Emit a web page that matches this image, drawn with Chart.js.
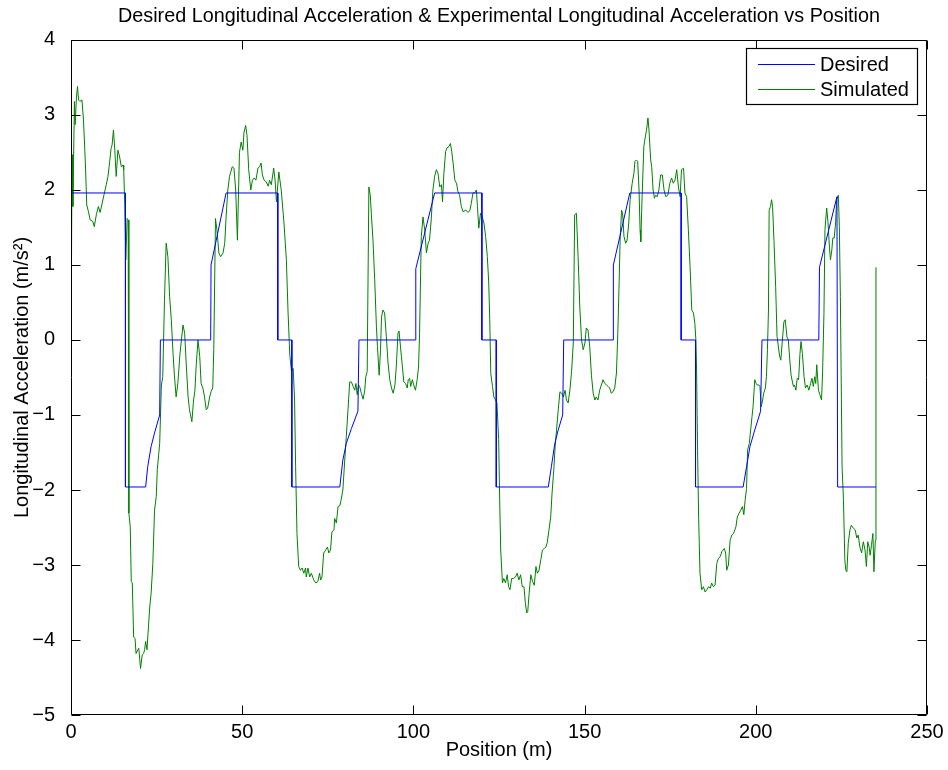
<!DOCTYPE html>
<html><head><meta charset="utf-8">
<script src="https://cdn.jsdelivr.net/npm/chart.js@4.4.0/dist/chart.umd.min.js"></script>
<style>html,body{margin:0;padding:0;background:#fff;}#wrap{width:948px;height:770px;}</style>
</head><body><div id="wrap"><canvas id="c" width="948" height="770"></canvas></div>
<script>
const titleText = 'Desired Longitudinal Acceleration & Experimental Longitudinal Acceleration vs Position';
const xLabel = 'Position (m)';
const yLabel = 'Longitudinal Acceleration (m/s\u00B2)';
const seriesNames = ['Desired', 'Simulated'];
const xTicks = [0, 50, 100, 150, 200, 250];
const yTicks = [-5, -4, -3, -2, -1, 0, 1, 2, 3, 4];

const desiredX = [0,15.9,15.9,21.8,22.4,23.4,24.4,25.9,26.1,40.8,40.9,45.3,60.4,60.4,64.5,64.5,78.5,79.4,80.4,81.9,83.8,84.1,100.6,100.7,106.2,120.0,120.0,124.2,124.2,139.4,140.3,141.3,142.3,143.6,143.9,158.3,158.4,163.2,178.2,178.2,182.4,182.4,196.3,197.3,198.3,199.7,201.4,201.8,218.4,218.6,223.7,223.9,235.1];
const desiredY = [1.96,1.96,-1.96,-1.96,-1.69,-1.42,-1.24,-1.0,0,0,1.0,1.96,1.96,0,0,-1.96,-1.96,-1.6,-1.38,-1.18,-0.95,0,0,0.95,1.96,1.96,0,0,-1.96,-1.96,-1.69,-1.38,-1.2,-1.0,0,0,1.0,1.96,1.96,0,0,-1.96,-1.96,-1.69,-1.42,-1.2,-0.95,0,0,0.97,1.91,-1.96,-1.96];

const simX = [0,0.3,0.55,1.0,1.2,1.6,1.9,2.2,2.6,3.2,3.65,4.2,4.6,5.1,5.6,6.4,6.8,7.4,8.0,8.5,9.0,9.6,10.3,10.8,11.3,11.7,12.0,12.4,12.8,13.2,13.7,14.2,14.7,15.2,15.4,15.7,16.0,16.4,16.7,16.9,17.3,17.6,17.9,18.3,18.7,19.0,19.5,19.8,20.3,20.8,21.2,21.5,21.8,22.2,22.5,23.0,23.4,23.9,24.4,24.9,25.2,25.6,25.9,26.4,26.8,27.3,27.8,28.3,28.8,29.3,29.8,30.2,30.7,31.2,31.8,32.7,33.2,33.7,34.2,34.6,35.3,35.8,36.2,36.6,37.1,37.6,38.0,38.5,39.0,39.5,39.9,40.5,40.9,41.4,41.7,42.2,42.6,43.2,43.7,44.4,44.9,45.3,45.8,46.3,47.1,47.6,48.1,48.6,49.2,49.7,50.2,50.5,51.0,51.4,51.9,52.5,53.0,53.5,54.0,54.6,55.1,55.5,55.9,56.4,57.0,57.6,58.0,58.5,59.2,59.6,60.0,60.7,61.4,62.2,62.9,63.4,63.9,64.4,64.9,65.3,65.6,66.0,66.5,67.0,67.5,68.0,68.5,68.7,69.2,69.7,70.2,70.9,71.5,72.1,72.6,72.9,73.3,73.8,74.4,74.9,75.3,75.8,76.2,76.8,77.0,77.5,78.0,78.5,78.9,79.4,79.9,80.4,80.9,81.4,81.9,82.4,82.9,83.2,83.6,84.0,84.3,84.8,85.3,85.8,86.1,86.5,87.0,87.4,87.7,88.2,88.7,89.2,89.5,90.0,90.4,90.7,91.1,91.6,92.1,92.6,93.1,93.6,94.1,94.6,95.0,95.5,95.8,96.5,96.8,97.2,97.7,98.2,98.5,98.9,99.2,99.7,100.1,100.6,101.1,101.5,101.8,102.3,102.8,103.3,103.8,104.3,104.7,105.2,105.7,106.2,106.7,107.2,107.7,108.2,108.5,108.9,109.4,109.8,110.4,110.8,111.2,111.6,112.1,112.6,113.0,113.5,114.0,114.5,115.3,116.0,116.5,116.9,117.4,117.9,118.4,118.7,119.1,119.6,120.1,120.6,121.1,121.6,122.0,122.3,122.6,123.1,123.5,124.0,124.4,124.9,125.2,125.5,126.0,126.4,126.9,127.4,127.8,128.2,128.7,129.2,129.8,130.3,130.8,131.3,131.8,132.3,132.7,133.1,133.4,133.8,134.3,134.8,135.3,135.8,136.2,136.7,137.2,137.7,138.2,138.7,139.1,139.6,140.1,140.5,141.0,141.4,141.8,142.3,142.8,143.3,143.8,144.3,144.7,145.2,145.7,146.2,146.7,147.1,147.6,148.1,148.6,149.1,149.6,150.1,150.5,151.0,151.5,152.0,152.5,153.0,153.4,153.9,154.4,154.9,155.4,155.9,156.4,156.9,157.3,157.8,158.3,158.8,159.3,159.7,160.1,160.4,160.8,161.1,161.5,162.0,162.4,162.9,163.3,163.9,164.4,164.7,165.1,165.5,165.9,166.2,166.4,166.8,167.3,167.8,168.1,168.5,168.8,169.3,169.6,170.0,170.4,170.7,171.2,171.7,172.2,172.7,173.2,173.7,174.3,174.9,175.4,175.9,176.4,176.9,177.4,177.9,178.3,178.9,179.3,179.8,180.3,180.8,181.3,181.8,182.2,182.5,182.7,183.0,183.3,183.7,184.2,184.7,185.2,185.7,186.2,186.7,187.1,187.6,188.1,188.6,189.1,189.6,190.1,190.8,191.2,191.5,192.0,192.5,193.0,193.5,193.9,194.2,194.6,195.1,195.6,196.1,196.5,196.9,197.3,197.6,198.1,198.5,198.9,199.2,199.7,200.1,200.4,200.9,201.2,201.6,202.0,202.3,202.8,203.1,203.4,203.7,203.9,204.3,204.6,204.9,205.3,205.8,206.2,206.9,207.3,207.7,208.2,208.6,209.1,209.5,209.9,210.3,210.7,211.0,211.3,211.7,212.1,212.5,212.9,213.2,213.6,214.1,214.5,215.0,215.5,216.0,216.4,216.8,217.2,217.5,217.8,218.3,218.7,219.2,219.5,219.9,220.2,220.7,221.1,221.5,221.8,222.2,222.5,222.9,223.3,223.6,224.1,224.4,224.7,225.2,225.6,226.0,226.3,226.6,227.0,227.5,227.9,228.5,229.0,229.5,229.9,230.4,230.9,231.4,231.9,232.3,232.7,233.1,233.4,233.8,234.2,234.5,234.9,235.1,235.1];
const simY = [-0.24,2.47,1.78,3.18,2.87,3.24,3.38,3.2,3.18,3.2,2.93,2.36,1.8,1.71,1.6,1.58,1.51,1.67,1.78,1.7,1.8,1.93,2.07,2.18,2.38,2.55,2.6,2.8,2.53,2.18,2.53,2.44,2.31,2.33,2.27,1.8,1.07,1.62,1.6,-2.31,-2.49,-3.22,-3.24,-3.96,-3.98,-4.18,-4.13,-4.11,-4.38,-4.2,-4.18,-4.13,-4.02,-4.13,-3.91,-3.56,-3.38,-2.98,-2.27,-2.09,-1.73,-1.53,-1.38,-0.6,-0.49,0.53,1.29,1.11,0.58,0.27,-0.18,-0.47,-0.76,-0.58,-0.2,0.2,0.09,-0.36,-0.76,-0.93,-1.09,-0.8,-0.67,-0.31,0.0,-0.22,-0.58,-0.64,-0.76,-0.93,-0.91,-0.76,-0.69,-0.64,-0.13,1.62,1.47,1.16,1.11,1.16,1.29,1.64,2.0,2.18,2.31,2.29,2.0,1.33,2.5,2.64,2.53,2.76,2.86,2.73,2.27,2.0,2.13,2.16,2.13,2.29,2.31,2.36,2.2,2.13,2.11,2.05,2.13,2.07,2.29,2.13,1.84,2.24,2.0,1.56,1.07,0.36,-0.2,-0.42,-0.38,-0.8,-1.69,-2.58,-3.02,-3.07,-3.04,-3.11,-3.04,-3.16,-3.04,-3.16,-3.11,-3.2,-3.24,-3.22,-3.11,-3.2,-3.16,-2.84,-2.8,-2.76,-2.84,-2.8,-2.56,-2.53,-2.38,-2.44,-2.22,-2.21,-2.13,-2.0,-1.64,-1.29,-0.93,-0.56,-0.56,-0.62,-0.67,-0.58,-0.73,-0.6,-0.62,-0.71,-0.79,-0.67,-0.49,-0.42,2.04,1.93,1.69,1.33,0.8,0.18,-0.09,-0.47,-0.13,0.31,0.4,0.36,0.04,-0.31,-0.53,-0.64,-0.71,-0.6,-0.36,0.09,0.12,-0.22,-0.36,-0.56,-0.58,-0.64,-0.53,-0.51,-0.62,-0.53,-0.6,-0.67,-0.53,-0.36,0.09,1.38,1.64,1.47,1.16,1.29,1.33,1.6,2.0,2.18,2.27,2.22,2.04,2.07,1.84,2.22,2.51,2.56,2.58,2.62,2.51,2.36,2.13,2.09,1.98,1.93,1.78,1.71,1.73,1.7,1.73,1.82,1.96,1.96,2.0,1.78,1.49,1.69,1.64,1.56,1.38,1.11,0.76,0.27,-0.45,-0.62,-0.76,-0.8,-0.84,-1.33,-2.13,-2.8,-3.24,-3.18,-3.24,-3.13,-3.29,-3.33,-3.18,-3.18,-3.16,-3.11,-3.2,-3.13,-3.29,-3.29,-3.51,-3.64,-3.62,-3.38,-3.13,-3.22,-3.27,-3.02,-3.11,-3.07,-2.93,-2.8,-2.78,-2.76,-2.7,-2.53,-2.36,-2.04,-1.73,-1.42,-1.2,-0.93,-0.69,-0.71,-0.76,-0.67,-0.8,-0.84,-0.67,-0.42,-0.04,1.67,1.69,1.11,0.44,0.0,-0.13,-0.04,0.16,0.13,-0.09,-0.47,-0.71,-0.8,-0.76,-0.8,-0.67,-0.6,-0.53,-0.58,-0.6,-0.62,-0.64,-0.71,-0.69,-0.64,-0.44,0.09,0.8,1.38,1.73,1.69,1.38,1.29,1.33,1.56,1.87,2.09,2.22,2.38,2.4,2.38,2.0,1.47,1.31,1.91,2.58,2.73,2.8,2.96,2.8,2.4,2.31,2.0,1.89,1.93,1.91,2.0,2.2,2.2,2.0,1.91,1.93,2.09,2.16,2.09,2.13,2.27,2.04,1.91,2.27,2.29,1.96,1.91,1.47,0.98,0.4,0.36,0.22,0.0,-0.4,-1.47,-2.36,-3.11,-3.33,-3.29,-3.36,-3.33,-3.29,-3.31,-3.24,-3.29,-3.27,-2.98,-2.91,-2.89,-2.82,-2.78,-2.84,-3.07,-3.0,-2.67,-2.6,-2.58,-2.53,-2.49,-2.36,-2.31,-2.27,-2.22,-2.33,-2.13,-1.98,-1.47,-1.38,-1.2,-1.02,-0.89,-0.53,-0.58,-0.6,-0.6,-0.62,-0.89,-0.8,-0.71,-0.64,-0.49,-0.13,0.4,1.73,1.78,1.87,1.78,1.33,0.71,0.05,-0.2,-0.27,-0.04,0.24,0.27,0.04,0.0,-0.25,-0.47,-0.56,-0.62,-0.6,-0.67,-0.51,-0.53,-0.18,-0.02,-0.18,-0.49,-0.64,-0.6,-0.67,-0.58,-0.51,-0.62,-0.49,-0.58,-0.33,-0.67,-0.73,-0.8,-0.44,0.35,1.47,1.76,1.56,1.24,1.07,1.2,1.36,1.36,1.56,1.87,1.93,1.51,0.58,-1.69,-2.13,-2.93,-3.07,-3.09,-2.71,-2.53,-2.47,-2.51,-2.53,-2.64,-2.6,-2.76,-2.84,-2.69,-2.8,-3.02,-2.69,-2.76,-2.87,-2.73,-2.58,-3.09,-2.67,-2.31,0.97];

const FONT = "'Liberation Sans', Arial, Helvetica, sans-serif";
const BLUE = '#0000ff', GREEN = '#008000';

function pts(xs, ys) { return xs.map((x, i) => ({x: x, y: ys[i]})); }

const framePlugin = {
  id: 'frame',
  afterDatasetsDraw(chart) {
    const ctx = chart.ctx, a = chart.chartArea;
    const xs = chart.scales.x, ys = chart.scales.y;
    const L = Math.round(a.left) + 0.5, R = Math.round(a.right) - 0.5;
    const T = Math.round(a.top) + 0.5, B = Math.round(a.bottom) - 0.5;
    ctx.save();
    ctx.strokeStyle = '#000';
    ctx.lineWidth = 1;
    const tl = 9;
    ctx.beginPath();
    xTicks.forEach(v => {
      const px = Math.round(xs.getPixelForValue(v)) + 0.5;
      ctx.moveTo(px, B); ctx.lineTo(px, B - tl);
      ctx.moveTo(px, T); ctx.lineTo(px, T + tl);
    });
    yTicks.forEach(v => {
      const py = Math.round(ys.getPixelForValue(v)) + 0.5;
      ctx.moveTo(L, py); ctx.lineTo(L + tl, py);
      ctx.moveTo(R, py); ctx.lineTo(R - tl, py);
    });
    ctx.stroke();
    ctx.beginPath();
    ctx.rect(L, T, R - L, B - T);
    ctx.stroke();

    // legend box
    const lx = 746.5, ly = 48.5, lw = 171, lh = 56;
    ctx.fillStyle = '#fff';
    ctx.fillRect(lx, ly, lw, lh);
    ctx.strokeStyle = '#000';
    ctx.lineWidth = 1.2;
    ctx.strokeRect(lx, ly, lw, lh);
    const rows = [64.5, 89.5];
    chart.data.datasets.forEach((ds, i) => {
      ctx.strokeStyle = ds.borderColor;
      ctx.lineWidth = 1;
      ctx.beginPath();
      ctx.moveTo(758, rows[i]); ctx.lineTo(815, rows[i]);
      ctx.stroke();
      ctx.fillStyle = '#000';
      ctx.font = '20px ' + FONT;
      ctx.textBaseline = 'middle';
      ctx.textAlign = 'left';
      ctx.fillText(ds.label, 820, rows[i] + 1);
    });
    ctx.restore();
  }
};

new Chart(document.getElementById('c'), {
  type: 'line',
  data: {
    datasets: [
      {label: seriesNames[0], data: pts(desiredX, desiredY), borderColor: BLUE, borderWidth: 1, pointRadius: 0, tension: 0, fill: false},
      {label: seriesNames[1], data: pts(simX, simY), borderColor: GREEN, borderWidth: 1, pointRadius: 0, tension: 0, fill: false}
    ]
  },
  options: {
    responsive: false,
    animation: false,
    devicePixelRatio: 1,
    layout: {padding: {left: 0, right: 21, top: 0, bottom: 0}},
    plugins: {
      legend: {display: false},
      tooltip: {enabled: false},
      title: {
        display: true, text: titleText, fullSize: false, color: '#000',
        font: {family: FONT, size: 19.8, weight: 'normal'},
        padding: {top: 5, bottom: 11.2}
      }
    },
    scales: {
      x: {
        type: 'linear', min: 0, max: 250,
        afterBuildTicks: s => { s.ticks = xTicks.map(v => ({value: v})); },
        afterFit: s => { s.height = 55; },
        grid: {display: false},
        border: {display: false},
        ticks: {color: '#000', font: {family: FONT, size: 20}, padding: -3, maxRotation: 0},
        title: {display: true, text: xLabel, color: '#000', font: {family: FONT, size: 20}, padding: {top: 0, bottom: 8}}
      },
      y: {
        type: 'linear', min: -5, max: 4,
        afterBuildTicks: s => { s.ticks = yTicks.map(v => ({value: v})); },
        afterFit: s => { s.width = 71; },
        grid: {display: false},
        border: {display: false},
        ticks: {color: '#000', font: {family: FONT, size: 20}, padding: 8,
          callback: v => (v < 0 ? '\u2212' + Math.abs(v) : String(v))},
        title: {display: true, text: yLabel, color: '#000', font: {family: FONT, size: 20}, padding: {top: 10, bottom: 0}}
      }
    }
  },
  plugins: [framePlugin]
});
</script></body></html>
